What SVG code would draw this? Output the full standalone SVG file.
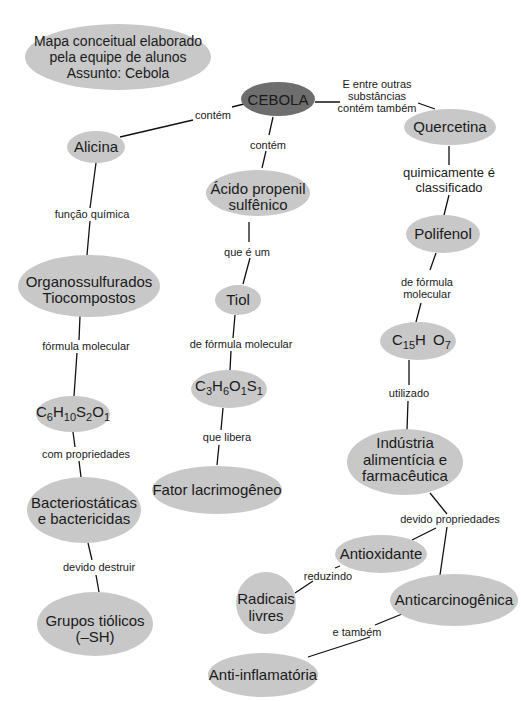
<svg xmlns="http://www.w3.org/2000/svg" width="521" height="701" viewBox="0 0 521 701">
<style>
.n{fill:#c8c8c8}
.d{fill:#6e6e6e}
.t{font-family:"Liberation Sans",Arial,sans-serif;font-size:15px;fill:#1a1a1a;text-anchor:middle}
.l{font-family:"Liberation Sans",Arial,sans-serif;font-size:11px;fill:#1a1a1a;text-anchor:middle}
.c{stroke:#111;stroke-width:1.3;fill:none}
.s{font-size:11px}
</style>
<rect width="521" height="701" fill="#fff"/>
<g id="connectors">
<path class="c" d="M120,137 L193,120 M232,107 L244,104"/>
<path class="c" d="M273,117 L269,135 M266,151 L262,168"/>
<path class="c" d="M315,102 L340,102 M418,103 L435,109"/>
<path class="c" d="M449,146 L449,165 M449,195 L444,215"/>
<path class="c" d="M436,253 L430,270 M421,303 L416,322"/>
<path class="c" d="M409,360 L409,385 M408,401 L407,430"/>
<path class="c" d="M430,493 L447,514 M447,527 L440,575 M436,528 L412,540"/>
<path class="c" d="M335,568 L340,566 M313,581 L295,593"/>
<path class="c" d="M402,614 L375,625 M370,637 L308,657"/>
<path class="c" d="M96,163 L90,208 M90,221 L87,255"/>
<path class="c" d="M80,316 L79,340 M77,353 L74,396"/>
<path class="c" d="M73,432 L75,447 M79,461 L81,477"/>
<path class="c" d="M88,543 L92,560 M96,575 L99,592"/>
<path class="c" d="M249,222 L249,242 M250,258 L243,284"/>
<path class="c" d="M235,315 L233,338 M231,351 L230,370"/>
<path class="c" d="M223,408 L221,430 M219,445 L217,465"/>
<text class="l" x="213" y="119">contém</text>
<text class="l" x="268" y="149">contém</text>
<text class="l" x="377" y="88">E entre outras</text>
<text class="l" x="377" y="100">substâncias</text>
<text class="l" x="377" y="112">contém também</text>
<text class="l" x="449" y="177" style="font-size:13px">quimicamente é</text>
<text class="l" x="449" y="192" style="font-size:13px">classificado</text>
<text class="l" x="427" y="286">de fórmula</text>
<text class="l" x="427" y="298">molecular</text>
<text class="l" x="409" y="397">utilizado</text>
<text class="l" x="450" y="523">devido propriedades</text>
<text class="l" x="328" y="580">reduzindo</text>
<text class="l" x="357" y="636">e também</text>
<text class="l" x="92" y="218">função química</text>
<text class="l" x="86" y="350">fórmula molecular</text>
<text class="l" x="86" y="458">com propriedades</text>
<text class="l" x="99" y="571">devido destruir</text>
<text class="l" x="247" y="256">que é um</text>
<text class="l" x="241" y="348">de fórmula molecular</text>
<text class="l" x="227" y="441">que libera</text>
</g>
<g id="title"><ellipse class="n" cx="118" cy="57" rx="93" ry="33"/>
<text class="t" x="118" y="46" style="font-size:14px">Mapa conceitual elaborado</text>
<text class="t" x="118" y="62" style="font-size:14px">pela equipe de alunos</text>
<text class="t" x="118" y="78" style="font-size:14px">Assunto: Cebola</text></g>
<g id="cebola"><ellipse class="d" cx="278" cy="99" rx="37" ry="17"/><text class="t" x="278" y="105">CEBOLA</text></g>
<g id="alicina"><ellipse class="n" cx="96" cy="147" rx="29" ry="16"/><text class="t" x="96" y="152">Alicina</text></g>
<g id="acido"><ellipse class="n" cx="258" cy="193" rx="52" ry="23"/><text class="t" x="258" y="194">Ácido propenil</text><text class="t" x="258" y="210">sulfênico</text></g>
<g id="quercetina"><ellipse class="n" cx="450" cy="127" rx="46" ry="18"/><text class="t" x="450" y="132">Quercetina</text></g>
<g id="polifenol"><ellipse class="n" cx="443" cy="234" rx="37" ry="19"/><text class="t" x="443" y="239">Polifenol</text></g>
<g id="c15"><ellipse class="n" cx="418" cy="341" rx="38" ry="19"/><text class="t" x="392" y="345" style="text-anchor:start">C<tspan class="s" dy="4">15</tspan><tspan dy="-4">H</tspan><tspan x="433">O</tspan><tspan class="s" dy="4">7</tspan></text></g>
<g id="industria"><ellipse class="n" cx="405" cy="462" rx="58" ry="33"/><text class="t" x="405" y="448">Indústria</text><text class="t" x="405" y="465">alimentícia e</text><text class="t" x="405" y="481">farmacêutica</text></g>
<g id="antioxidante"><ellipse class="n" cx="381" cy="554" rx="46" ry="19"/><text class="t" x="381" y="559">Antioxidante</text></g>
<g id="radicais"><ellipse class="n" cx="266" cy="603" rx="30" ry="31"/><text class="t" x="266" y="604">Radicais</text><text class="t" x="266" y="621">livres</text></g>
<g id="anticarcinogenica"><ellipse class="n" cx="454" cy="600" rx="64" ry="26"/><text class="t" x="454" y="605">Anticarcinogênica</text></g>
<g id="antiinflamatoria"><ellipse class="n" cx="263" cy="675" rx="55" ry="22"/><text class="t" x="263" y="680">Anti-inflamatória</text></g>
<g id="organossulfurados"><ellipse class="n" cx="89" cy="286" rx="71" ry="31"/><text class="t" x="89" y="287">Organossulfurados</text><text class="t" x="89" y="303">Tiocompostos</text></g>
<g id="c6"><ellipse class="n" cx="73" cy="414" rx="37" ry="18"/><text class="t" x="73" y="417">C<tspan class="s" dy="4">6</tspan><tspan dy="-4">H</tspan><tspan class="s" dy="4">10</tspan><tspan dy="-4">S</tspan><tspan class="s" dy="4">2</tspan><tspan dy="-4">O</tspan><tspan class="s" dy="4">1</tspan></text></g>
<g id="bacteriostaticas"><ellipse class="n" cx="84" cy="510" rx="57" ry="33"/><text class="t" x="84" y="508">Bacteriostáticas</text><text class="t" x="84" y="524">e bactericidas</text></g>
<g id="grupos"><ellipse class="n" cx="95" cy="624" rx="58" ry="32"/><text class="t" x="95" y="626">Grupos tiólicos</text><text class="t" x="95" y="642">(–SH)</text></g>
<g id="tiol"><ellipse class="n" cx="238" cy="300" rx="23" ry="15"/><text class="t" x="238" y="305">Tiol</text></g>
<g id="c3"><ellipse class="n" cx="229" cy="389" rx="38" ry="19"/><text class="t" x="229" y="391">C<tspan class="s" dy="4">3</tspan><tspan dy="-4">H</tspan><tspan class="s" dy="4">6</tspan><tspan dy="-4">O</tspan><tspan class="s" dy="4">1</tspan><tspan dy="-4">S</tspan><tspan class="s" dy="4">1</tspan></text></g>
<g id="fator"><ellipse class="n" cx="217" cy="490" rx="65" ry="24"/><text class="t" x="217" y="495">Fator lacrimogêneo</text></g>
</svg>
